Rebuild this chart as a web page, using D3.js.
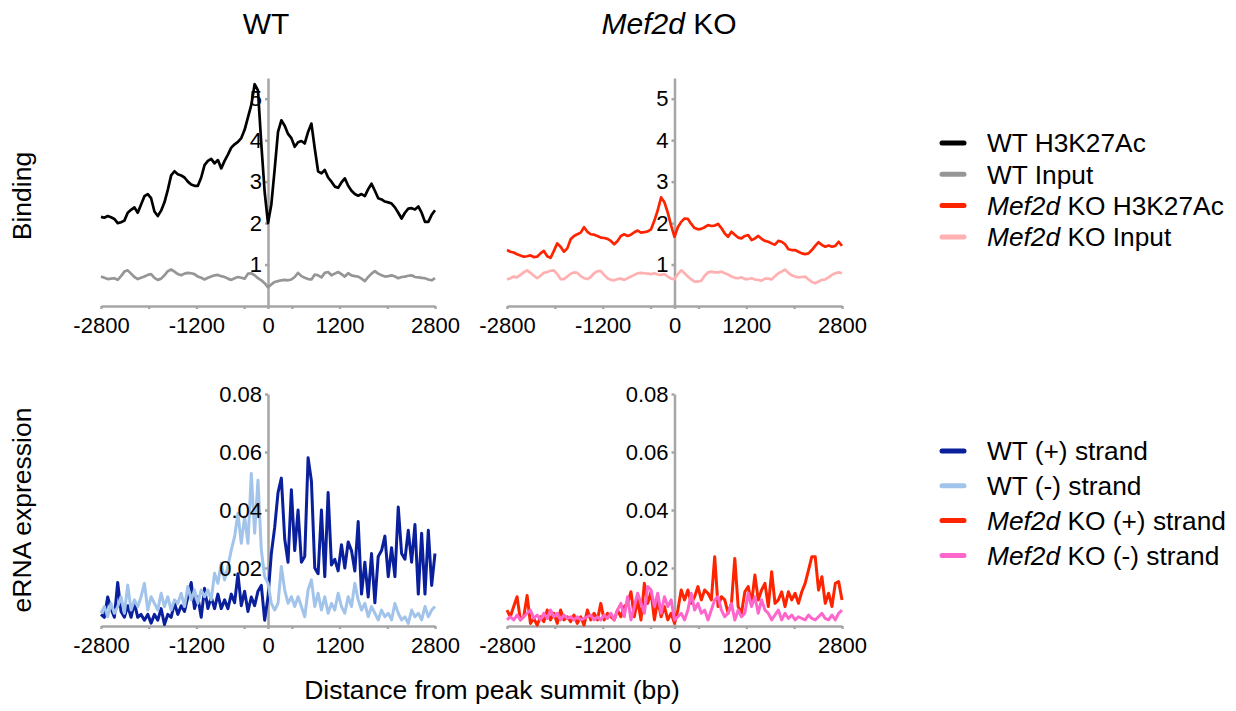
<!DOCTYPE html>
<meta charset="utf-8" />
<head>
  <script src="https://d3js.org/d3.v7.min.js"></script>
  <title>H3K27Ac and eRNA profiles</title>
  <style>
    body {
      margin: 0;
      background: #fff;
    }
    text {
      font-family: "Liberation Sans", Arial, sans-serif;
      fill: #000;
    }
    .axis path,
    .axis line {
      stroke: #a6a6a6;
      stroke-width: 2.5;
    }
    .axis text {
      font-size: 22px;
    }
    .series {
      fill: none;
      stroke-linejoin: round;
    }
  </style>
</head>
<body>
  <svg id="chart" width="1236" height="711"></svg>
</body>

<script>
  // bin centres (bp from peak summit), 56 bp apart
  const bins = d3.range(-2800, 2801, 56);

  const xTickMarks = [-2800, -2000, -1200, -400, 0, 400, 1200, 2000, 2800];
  const xTickLabels = [-2800, -1200, 0, 1200, 2800];
  const bindingTicks = [1, 2, 3, 4, 5];
  const ernaTicks = [0.02, 0.04, 0.06, 0.08];

  const panelTitles = ["WT", "Mef2d KO"];
  const bindingLegend = ["WT H3K27Ac", "WT Input", "Mef2d KO H3K27Ac", "Mef2d KO Input"];
  const ernaLegend = ["WT (+) strand", "WT (-) strand", "Mef2d KO (+) strand", "Mef2d KO (-) strand"];

  const wtH3K27Ac = [
    2.15, 2.13, 2.17, 2.14, 2.1, 2.0, 2.02, 2.06, 2.25, 2.32,
    2.38, 2.25, 2.45, 2.65, 2.7, 2.6, 2.28, 2.17, 2.3, 2.5,
    2.8, 3.15, 3.25, 3.18, 3.15, 3.1, 3.0, 2.93, 2.9, 2.9,
    3.1, 3.4, 3.5, 3.55, 3.44, 3.52, 3.32, 3.5, 3.65, 3.82,
    3.9, 3.96, 4.05, 4.25, 4.55, 4.85, 5.35, 5.2, 3.9, 2.75,
    2.0, 2.45, 3.3, 4.2, 4.48, 4.35, 4.15, 4.05, 3.84, 3.95,
    3.98, 3.92, 4.2, 4.4, 3.8, 3.25, 3.2, 3.28, 3.1, 3.0,
    2.88, 2.85, 2.98, 3.08, 2.9, 2.78, 2.7, 2.66, 2.7, 2.65,
    2.82, 2.95, 2.78, 2.6, 2.57, 2.52, 2.5, 2.47, 2.38, 2.25,
    2.11, 2.25, 2.35, 2.36, 2.33, 2.4, 2.25, 2.03, 2.03, 2.2,
    2.31,
  ];
  const wtInput = [
    0.71, 0.68, 0.65, 0.66, 0.67, 0.63, 0.72, 0.83, 0.86, 0.78,
    0.7, 0.65, 0.68, 0.71, 0.75, 0.77, 0.68, 0.63, 0.66, 0.74,
    0.84, 0.88, 0.83, 0.77, 0.74, 0.78, 0.8, 0.79, 0.77, 0.71,
    0.68, 0.64, 0.68, 0.71, 0.74, 0.75, 0.72, 0.7, 0.66, 0.63,
    0.67, 0.7, 0.68, 0.66, 0.78, 0.79, 0.74, 0.67, 0.62, 0.55,
    0.45, 0.52, 0.58, 0.6, 0.62, 0.63, 0.62, 0.64, 0.7, 0.8,
    0.72, 0.68, 0.65, 0.64, 0.76, 0.74, 0.69, 0.8, 0.82, 0.74,
    0.78, 0.82, 0.77, 0.71, 0.79, 0.74, 0.72, 0.71, 0.66, 0.6,
    0.7, 0.78, 0.84, 0.78, 0.74, 0.71, 0.72, 0.74, 0.71, 0.67,
    0.7, 0.71, 0.73, 0.74, 0.7, 0.69, 0.68, 0.67, 0.64, 0.62,
    0.67,
  ];
  const koH3K27Ac = [
    1.35, 1.31, 1.29, 1.25, 1.22, 1.19, 1.2, 1.22, 1.18, 1.19,
    1.27, 1.33, 1.2, 1.16, 1.33, 1.51, 1.43, 1.31, 1.39, 1.61,
    1.69, 1.73, 1.77, 1.9, 1.79, 1.73, 1.72, 1.69, 1.65, 1.64,
    1.62, 1.57, 1.49, 1.57, 1.69, 1.73, 1.69, 1.72, 1.78, 1.82,
    1.77, 1.78, 1.8, 1.85, 2.06, 2.31, 2.62, 2.5, 2.25, 1.94,
    1.67, 1.9, 2.03, 2.11, 2.1, 1.98, 1.88, 1.85, 1.86, 1.9,
    1.95, 1.93, 1.94, 1.98, 1.88, 1.75, 1.67, 1.79, 1.72, 1.65,
    1.63, 1.69, 1.71, 1.59, 1.63, 1.69, 1.62, 1.57, 1.55, 1.51,
    1.48, 1.57, 1.55, 1.49, 1.37, 1.35, 1.35, 1.31, 1.27, 1.25,
    1.27, 1.35, 1.45, 1.54, 1.47, 1.43, 1.46, 1.43, 1.45, 1.55,
    1.45,
  ];
  const koInput = [
    0.64, 0.67, 0.71, 0.69, 0.75, 0.81, 0.86, 0.8, 0.73, 0.67,
    0.73, 0.8, 0.82, 0.85, 0.86, 0.77, 0.65, 0.65, 0.71, 0.78,
    0.81, 0.8, 0.72, 0.67, 0.65, 0.7, 0.79, 0.84, 0.84, 0.75,
    0.67, 0.63, 0.62, 0.65, 0.66, 0.63, 0.67, 0.71, 0.75, 0.79,
    0.8, 0.79, 0.78, 0.77, 0.79, 0.76, 0.75, 0.77, 0.71, 0.66,
    0.65, 0.77, 0.86, 0.79, 0.71, 0.64, 0.59, 0.59, 0.61, 0.73,
    0.81, 0.83, 0.81, 0.81, 0.83, 0.79, 0.76, 0.71, 0.68, 0.67,
    0.69, 0.65, 0.65, 0.67, 0.64, 0.63, 0.61, 0.66, 0.66, 0.64,
    0.72, 0.79, 0.83, 0.88, 0.8, 0.74, 0.71, 0.69, 0.7, 0.71,
    0.64, 0.58, 0.55, 0.59, 0.63, 0.64, 0.69, 0.75, 0.79, 0.81,
    0.79,
  ];

  const wtPlus = [
    0.004, 0.003, 0.01, 0.006, 0.003, 0.015, 0.005, 0.003, 0.007, 0.003,
    0.008, 0.003, 0.004, 0.002, 0.004, 0.001, 0.004, 0.002, 0.006, 0.0005,
    0.004, 0.003, 0.008, 0.004, 0.007, 0.005, 0.01, 0.015, 0.006, 0.01,
    0.003, 0.013, 0.006, 0.01, 0.006, 0.011, 0.006, 0.009, 0.006, 0.011,
    0.008, 0.018, 0.007, 0.012, 0.005, 0.01, 0.007, 0.012, 0.014, 0.002,
    0.01, 0.025, 0.034, 0.046, 0.051, 0.03, 0.022, 0.047, 0.026, 0.04,
    0.022, 0.024, 0.058, 0.05, 0.02, 0.018, 0.04, 0.017, 0.046, 0.021,
    0.023, 0.019, 0.028, 0.02, 0.029, 0.026, 0.019, 0.036, 0.011, 0.022,
    0.01, 0.025, 0.008, 0.024, 0.026, 0.031, 0.017, 0.027, 0.017, 0.041,
    0.025, 0.023, 0.033, 0.022, 0.035, 0.011, 0.032, 0.011, 0.033, 0.014,
    0.025,
  ];
  const wtMinus = [
    0.0044, 0.0067, 0.0032, 0.0078, 0.0044, 0.0067, 0.0101, 0.0044, 0.0141, 0.0055,
    0.009, 0.0067, 0.0101, 0.0147, 0.0055, 0.0101, 0.0078, 0.0055, 0.0113, 0.0067,
    0.0101, 0.0055, 0.009, 0.0078, 0.0113, 0.0067, 0.0136, 0.009, 0.0124, 0.0078,
    0.0124, 0.0101, 0.0124, 0.009, 0.0182, 0.0147, 0.0216, 0.0159, 0.0205, 0.0262,
    0.0308, 0.0389, 0.0285, 0.0377, 0.0285, 0.0526, 0.032, 0.0503, 0.0262, 0.017,
    0.0147, 0.0078, 0.0055, 0.0078, 0.0205, 0.0124, 0.0078, 0.0101, 0.0067, 0.0101,
    0.0067, 0.0032, 0.0124, 0.0159, 0.0067, 0.0113, 0.0055, 0.0101, 0.0044, 0.0078,
    0.0055, 0.0113, 0.0067, 0.0044, 0.0101, 0.0067, 0.0147, 0.009, 0.0055, 0.0078,
    0.0032, 0.0067, 0.0044, 0.0021, 0.0055, 0.0032, 0.0044, 0.0021, 0.0078, 0.0044,
    0.0021, 0.0032, 0.0009, 0.0055, 0.0032, 0.0044, 0.0021, 0.0067, 0.0032, 0.0055,
    0.0067,
  ];
  const koPlus = [
    0.0055, 0.0032, 0.0067, 0.0101, 0.0021, 0.0032, 0.0105, 0.0009, 0.0026, 0.0003,
    0.0032, 0.0015, 0.0055, 0.0021, 0.0044, 0.0009, 0.0055, 0.0021, 0.0032, 0.0015,
    0.0038, 0.0009, 0.0032, 0.0003, 0.0055, 0.0021, 0.0044, 0.0021, 0.0078, 0.0021,
    0.0044, 0.0032, 0.0021, 0.0055, 0.0032, 0.0067, 0.0078, 0.0118, 0.0032, 0.009,
    0.0021, 0.0147, 0.0078, 0.0118, 0.0021, 0.009, 0.0032, 0.0067, 0.0021, 0.0044,
    0.0009, 0.0055, 0.0124, 0.009, 0.0124, 0.0078, 0.0101, 0.0136, 0.009, 0.0124,
    0.0113, 0.009, 0.0239, 0.0067, 0.0101, 0.009, 0.0044, 0.0078, 0.0233, 0.0067,
    0.0044, 0.0118, 0.0136, 0.0078, 0.0176, 0.009, 0.0124, 0.0147, 0.0067, 0.0187,
    0.0078, 0.009, 0.0118, 0.0067, 0.0118, 0.009, 0.0113, 0.0078, 0.0118, 0.0147,
    0.0193, 0.0239, 0.0239, 0.0124, 0.017, 0.0078, 0.0113, 0.0067, 0.0147, 0.0153,
    0.009,
  ];
  const koMinus = [
    0.0021, 0.0032, 0.0021, 0.0038, 0.0021, 0.0032, 0.0044, 0.0055, 0.0026, 0.0038,
    0.0021, 0.0044, 0.0026, 0.0055, 0.0032, 0.0044, 0.0021, 0.0038, 0.0026, 0.0032,
    0.0021, 0.0032, 0.0021, 0.0026, 0.0032, 0.0038, 0.0021, 0.0032, 0.0021, 0.0038,
    0.0026, 0.0044, 0.0021, 0.0055, 0.0078, 0.0032, 0.0101, 0.0021, 0.0067, 0.0113,
    0.0078, 0.0044, 0.0136, 0.0124, 0.0067, 0.0113, 0.0044, 0.0101, 0.0067, 0.009,
    0.0021, 0.0032, 0.0044, 0.0021, 0.0055, 0.0113, 0.0055, 0.0078, 0.0044, 0.0055,
    0.0021, 0.0055, 0.009, 0.0101, 0.0055, 0.0032, 0.0044, 0.0078, 0.0021, 0.0055,
    0.0032, 0.0044, 0.0113, 0.0067, 0.0101, 0.0044, 0.009, 0.0055, 0.0044, 0.0021,
    0.0038, 0.0055, 0.0021, 0.0044, 0.0026, 0.0038, 0.0021, 0.0032, 0.0026, 0.0021,
    0.0038, 0.0026, 0.0021, 0.0032, 0.0044, 0.0026, 0.0021, 0.0038, 0.0021, 0.0044,
    0.0055,
  ];

  const colors = {
    black: "#000000",
    gray: "#969696",
    red: "#ff2400",
    lightPink: "#ffb0b0",
    navy: "#0a1f9c",
    skyBlue: "#a3c4ea",
    magenta: "#ff66cc",
  };

  const svg = d3.select("#chart");

  const cols = [
    { left: 101, right: 435, titleX: 266 },
    { left: 507, right: 842, titleX: 669 },
  ];
  const rows = [
    { top: 78, bottom: 306, domain: [0, 5.5], ticks: bindingTicks, fmt: (d) => String(d), lw: 2.7 },
    { top: 394, bottom: 626, domain: [0, 0.08], ticks: ernaTicks, fmt: d3.format(".2f"), lw: 3 },
  ];

  const panels = [
    { col: 0, row: 0, series: [[wtH3K27Ac, colors.black], [wtInput, colors.gray]] },
    { col: 1, row: 0, series: [[koH3K27Ac, colors.red], [koInput, colors.lightPink]] },
    { col: 0, row: 1, series: [[wtPlus, colors.navy], [wtMinus, colors.skyBlue]] },
    { col: 1, row: 1, series: [[koPlus, colors.red], [koMinus, colors.magenta]] },
  ];

  const drawAxes = (g, x, y, r, withText) => {
    const xAxis = d3
      .axisBottom(x)
      .tickValues(xTickMarks)
      .tickSize(3)
      .tickSizeOuter(0)
      .tickPadding(8)
      .tickFormat((d) => (withText && xTickLabels.includes(d) ? String(d) : ""));
    const yAxis = d3
      .axisLeft(y)
      .tickValues(r.ticks)
      .tickSize(3)
      .tickSizeOuter(0)
      .tickPadding(3)
      .tickFormat((d) => (withText ? r.fmt(d) : ""));

    const gx = g.append("g").attr("class", "axis").attr("transform", `translate(0,${y(0)})`).call(xAxis);
    const gy = g.append("g").attr("class", "axis").attr("transform", `translate(${x(0)},0)`).call(yAxis);
    if (withText) {
      // second pass: only the labels, so they sit over the traces
      gx.selectAll("path, line").remove();
      gy.selectAll("path, line").remove();
    }
  };

  panels.forEach((p) => {
    const c = cols[p.col];
    const r = rows[p.row];
    const x = d3.scaleLinear().domain([-2800, 2800]).range([c.left, c.right]);
    const y = d3.scaleLinear().domain(r.domain).range([r.bottom, r.top]);
    const g = svg.append("g");

    drawAxes(g, x, y, r, false);

    const line = d3
      .line()
      .x((d, i) => x(bins[i]))
      .y((d) => y(d));

    g.selectAll(".series")
      .data(p.series)
      .enter()
      .append("path")
      .attr("class", "series")
      .attr("stroke", (d) => d[1])
      .attr("stroke-width", r.lw)
      .attr("d", (d) => line(d[0]));

    drawAxes(g, x, y, r, true);
  });

  // writes "Mef2d" in italics, the rest upright
  const richText = (sel, label) => {
    const parts = label.split(/(Mef2d)/).filter((s) => s.length);
    parts.forEach((s) => {
      sel.append("tspan").attr("font-style", s === "Mef2d" ? "italic" : "normal").text(s);
    });
  };

  // panel titles
  panelTitles.forEach((t, i) => {
    const tx = svg
      .append("text")
      .attr("x", cols[i].titleX)
      .attr("y", 34)
      .attr("text-anchor", "middle")
      .attr("font-size", 30);
    richText(tx, t);
  });

  // axis titles
  svg.append("text")
    .attr("transform", "translate(31,196) rotate(-90)")
    .attr("text-anchor", "middle")
    .attr("font-size", 26.5)
    .text("Binding");

  svg.append("text")
    .attr("transform", "translate(31,510) rotate(-90)")
    .attr("text-anchor", "middle")
    .attr("font-size", 26.5)
    .text("eRNA expression");

  svg.append("text")
    .attr("x", 492)
    .attr("y", 699)
    .attr("text-anchor", "middle")
    .attr("font-size", 26.5)
    .text("Distance from peak summit (bp)");

  // legends
  const drawLegend = (labels, swatches, y0, step) => {
    const lg = svg.append("g");
    labels.forEach((label, i) => {
      const yy = y0 + i * step;
      lg.append("line")
        .attr("x1", 942)
        .attr("x2", 964)
        .attr("y1", yy)
        .attr("y2", yy)
        .attr("stroke", swatches[i])
        .attr("stroke-width", 5)
        .attr("stroke-linecap", "round");
      const t = lg.append("text")
        .attr("x", 987)
        .attr("y", yy)
        .attr("dy", "0.36em")
        .attr("font-size", 26.3);
      richText(t, label);
    });
  };

  drawLegend(bindingLegend, [colors.black, colors.gray, colors.red, colors.lightPink], 143, 31.3);
  drawLegend(ernaLegend, [colors.navy, colors.skyBlue, colors.red, colors.magenta], 451, 34.8);
</script>
